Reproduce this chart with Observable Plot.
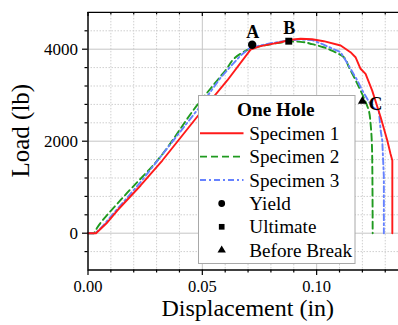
<!DOCTYPE html>
<html>
<head>
<meta charset="utf-8">
<script src="https://cdn.jsdelivr.net/npm/d3@7"></script>
<script src="https://cdn.jsdelivr.net/npm/@observablehq/plot@0.6"></script>
<style>
  html, body { margin: 0; padding: 0; background: white; }
  svg { display: block; }
  #chart svg, #chart svg text { font-family: 'Liberation Serif', 'Times New Roman', serif !important; }
</style>
</head>
<body>
<div id="chart"></div>
<script>
// ---- Data ----
const spec1X = [0, 0.0035, 0.008, 0.0128, 0.023, 0.0325, 0.0482, 0.0609, 0.0711, 0.075, 0.080, 0.0842, 0.0886, 0.093, 0.098, 0.1031, 0.1105, 0.1148, 0.117, 0.1192, 0.1214, 0.1243, 0.128, 0.1309, 0.1323, 0.1331, 0.1331];
const spec1Y = [0, 0, 210, 493, 1037, 1580, 2559, 3320, 3990, 4060, 4110, 4152, 4205, 4226, 4215, 4174, 4080, 3935, 3826, 3574, 3465, 3100, 2522, 2015, 1726, 1580, 0];

const spec2X = [0, 0.0025, 0.004, 0.015, 0.0303, 0.0482, 0.0565, 0.0601, 0.0667, 0.0711, 0.075, 0.082, 0.0878, 0.093, 0.098, 0.103, 0.1075, 0.1119, 0.1141, 0.1178, 0.121, 0.1228, 0.1236, 0.1243, 0.1245];
const spec2Y = [0, 0, 120, 760, 1580, 2813, 3320, 3537, 3900, 4009, 4060, 4130, 4175, 4160, 4110, 4043, 3950, 3826, 3609, 3248, 2900, 2667, 2378, 1652, 0];

const spec3X = [0, 0.0033, 0.006, 0.012, 0.023, 0.0482, 0.058, 0.0667, 0.0711, 0.080, 0.0878, 0.093, 0.098, 0.103, 0.1105, 0.1127, 0.1178, 0.12, 0.1243, 0.1272, 0.128, 0.1287, 0.1294, 0.1294];
const spec3Y = [0, 0, 130, 480, 1109, 2704, 3380, 3863, 4037, 4130, 4190, 4215, 4200, 4100, 3935, 3754, 3320, 3100, 2739, 2667, 2233, 2015, 1217, 0];

const pointLabels = ["A", "B", "C"];
const pointNames = ["Yield", "Ultimate", "Before Break"];
const pointX = [0.0718, 0.0878, 0.1200];
const pointY = [4096, 4174, 2870];

const seriesNames = ["Specimen 1", "Specimen 2", "Specimen 3"];
const legendTitle = "One Hole";
const xLabel = "Displacement (in)";
const yLabel = "Load (lb)";

const xMajor = [0, 0.05, 0.10];
const xMinor = [0.01, 0.02, 0.03, 0.04, 0.06, 0.07, 0.08, 0.09, 0.11, 0.12, 0.13];
const yMajor = [0, 2000, 4000];
const yMinor = [-400, 400, 800, 1200, 1600, 2400, 2800, 3200, 3600, 4400];
const xDomain = [0, 0.1358];
const yDomain = [-800, 4800];

// ---- Tables ----
const toRows = (xs, ys) => xs.map((x, i) => ({x, y: ys[i]}));
const s1 = toRows(spec1X, spec1Y);
const s2 = toRows(spec2X, spec2Y);
const s3 = toRows(spec3X, spec3Y);
const pts = pointX.map((x, i) => ({x, y: pointY[i], label: pointLabels[i], name: pointNames[i]}));

const RED = "#ff1a1a", GREEN = "#1f9a1f", BLUE = "#6682ff";
const FONT = "'Liberation Serif', 'Times New Roman', serif";

const W = 398, H = 325;
const mL = 87.5, mR = 0, mT = 11.9, mB = 55.5;

const chart = Plot.plot({
  width: W, height: H,
  marginLeft: mL, marginRight: mR, marginTop: mT, marginBottom: mB,
  x: {domain: xDomain},
  y: {domain: yDomain},
  style: {fontFamily: FONT, background: "white", color: "black", overflow: "visible"},
  marks: [
    Plot.gridX(xMinor, {stroke: "#cfcfcf", strokeOpacity: 1, strokeDasharray: "1.5,1.5"}),
    Plot.gridY(yMinor, {stroke: "#cfcfcf", strokeOpacity: 1, strokeDasharray: "1.5,1.5"}),
    Plot.gridX(xMajor, {stroke: "#c6c6c6", strokeOpacity: 1}),
    Plot.gridY(yMajor, {stroke: "#c6c6c6", strokeOpacity: 1}),

    Plot.line(s2, {x: "x", y: "y", stroke: GREEN, strokeWidth: 1.9, strokeDasharray: "7,4", curve: "monotone-y"}),
    Plot.line(s3, {x: "x", y: "y", stroke: BLUE, strokeWidth: 1.9, strokeDasharray: "6,3,2,3", curve: "linear"}),
    Plot.line(s1, {x: "x", y: "y", stroke: RED, strokeWidth: 1.9, curve: "linear"}),

    Plot.dot([pts[0]], {x: "x", y: "y", symbol: "circle", r: 4.2, fill: "black", stroke: "none"}),
    Plot.dot([pts[1]], {x: "x", y: "y", symbol: "square", r: 3.9, fill: "black", stroke: "none"}),
    Plot.dot([pts[2]], {x: "x", y: "y", symbol: "triangle", r: 3.3, fill: "black", stroke: "none"}),
    Plot.text([pts[0]], {x: "x", y: "y", text: "label", fontFamily: FONT, fontSize: 18, fontWeight: "bold", textAnchor: "middle", lineAnchor: "bottom", dx: 0.6, dy: -7, fill: "black"}),
    Plot.text([pts[1]], {x: "x", y: "y", text: "label", fontFamily: FONT, fontSize: 18, fontWeight: "bold", textAnchor: "middle", lineAnchor: "bottom", dx: 0.5, dy: -7.4, fill: "black"}),
    Plot.text([pts[2]], {x: "x", y: "y", text: "label", fontFamily: FONT, fontSize: 19, fontWeight: "bold", textAnchor: "start", lineAnchor: "bottom", dx: 6.4, dy: 9.3, fill: "black"}),

    Plot.axisY(yMajor, {tickSize: 5.5, tickPadding: 4.5, fontSize: 17, fontFamily: FONT, fontVariant: "normal", tickFormat: d => String(d), label: null, strokeWidth: 1.2}),
    Plot.axisY(yMinor, {tickSize: 3, text: null, label: null, strokeWidth: 1.2}),
    Plot.axisX(xMajor, {tickSize: 5.5, tickPadding: 4.3, fontSize: 16.5, fontFamily: FONT, fontVariant: "normal", tickFormat: d3.format(".2f"), label: null, strokeWidth: 1.2}),
    Plot.axisX(xMinor, {tickSize: 3, text: null, label: null, strokeWidth: 1.2}),
    // inward ticks along the top edge
    Plot.ruleX(xMajor, {x: d => d, stroke: "black", strokeWidth: 1.2, insetBottom: (H - mT - mB) - 4}),
    Plot.ruleX(xMinor, {x: d => d, stroke: "black", strokeWidth: 1.2, insetBottom: (H - mT - mB) - 2.5}),
    // frame lines
    Plot.ruleX([xDomain[0]], {stroke: "black", strokeWidth: 1.4}),
    Plot.ruleY([yDomain[0]], {stroke: "black", strokeWidth: 1.4}),
    Plot.ruleY([yDomain[1]], {stroke: "black", strokeWidth: 1.4}),

    // axis titles
    Plot.text([xLabel], {frameAnchor: "bottom", text: d => d, fontFamily: FONT, fontSize: 24, textAnchor: "middle", lineAnchor: "bottom", dx: 4.5, dy: 45.5, fill: "black"}),
    Plot.text([yLabel], {frameAnchor: "left", text: d => d, fontFamily: FONT, fontSize: 25, rotate: -90, textAnchor: "middle", lineAnchor: "bottom", dx: -59.2, dy: -10.5, fill: "black"})
  ]
});

document.getElementById("chart").appendChild(chart);

// ---- Legend (inside plot area) ----
const svg = d3.select(chart);
const lg = svg.append("g").attr("font-family", FONT).attr("fill", "black").attr("text-anchor", "start");
const bx = 198.5, by = 95.5, bw = 156.5, bh = 168;
lg.append("rect").attr("x", bx).attr("y", by).attr("width", bw).attr("height", bh)
  .attr("fill", "white").attr("stroke", "#a8a8a8").attr("stroke-width", 1);
lg.append("text").attr("x", bx + bw / 2 - 1).attr("y", 115.7).attr("text-anchor", "middle")
  .attr("font-size", 19.3).attr("font-weight", "bold").text(legendTitle);

const rowBase = [140, 163.3, 186.7, 210, 233.3, 256.7];
const lineStyles = [
  {stroke: RED, dash: null},
  {stroke: GREEN, dash: "7,4"},
  {stroke: BLUE, dash: "6,3,2,3"}
];
seriesNames.forEach((name, i) => {
  const yc = rowBase[i] - 6.7;
  const l = lg.append("line").attr("x1", 200).attr("x2", 243.5).attr("y1", yc).attr("y2", yc)
    .attr("stroke", lineStyles[i].stroke).attr("stroke-width", 1.9);
  if (lineStyles[i].dash) l.attr("stroke-dasharray", lineStyles[i].dash);
  lg.append("text").attr("x", 249.3).attr("y", rowBase[i]).attr("text-anchor", "start")
    .attr("font-size", 19.2).text(name);
});
const symTypes = [d3.symbolCircle, d3.symbolSquare, d3.symbolTriangle];
const symR = [3.4, 3.2, 3.1];
pointNames.forEach((name, i) => {
  const yc = rowBase[i + 3] - 6.5;
  lg.append("path").attr("d", d3.symbol(symTypes[i], Math.PI * symR[i] * symR[i])())
    .attr("transform", `translate(221.7,${yc})`).attr("fill", "black");
  lg.append("text").attr("x", 249.3).attr("y", rowBase[i + 3]).attr("text-anchor", "start")
    .attr("font-size", 19.2).text(name);
});
</script>
</body>
</html>
